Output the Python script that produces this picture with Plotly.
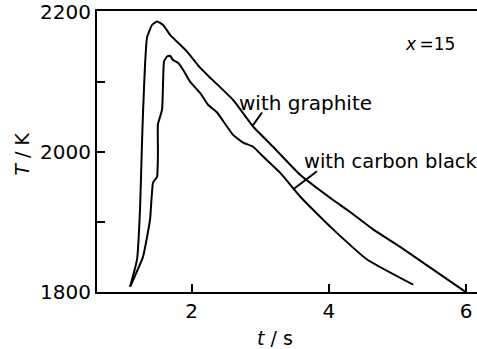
import plotly.graph_objects as go

# Graphite curve (t / s, T / K)
t_graphite = [1.104, 1.206, 1.249, 1.278, 1.293, 1.322, 1.351, 1.424, 1.497, 1.585, 1.687,
              1.934, 2.124, 2.226, 2.605, 2.897, 3.188, 3.582, 4.063, 4.267, 4.646, 5.04, 5.987]
T_graphite = [1807, 1846, 1917, 2013, 2057, 2124, 2163, 2181, 2186, 2181, 2167,
              2143, 2120, 2110, 2074, 2036, 2007, 1967, 1931, 1917, 1889, 1864, 1800]

# Carbon black curve
t_carbon = [1.104, 1.293, 1.395, 1.439, 1.497, 1.51, 1.51, 1.57, 1.585, 1.599, 1.643, 1.687,
            1.730, 1.803, 1.876, 1.978, 2.124, 2.241, 2.372, 2.605, 2.751, 2.897, 3.043,
            3.29, 3.582, 3.771, 4.063, 4.558, 5.229]
T_carbon = [1807, 1850, 1903, 1956, 1964, 1999, 2039, 2060, 2100, 2129, 2136, 2137,
            2131, 2127, 2117, 2100, 2084, 2067, 2056, 2024, 2013, 2007, 1993,
            1970, 1936, 1917, 1889, 1846, 1810]

x_ticks = [2, 4, 6]
x_ticktext = ["2", "4", "6"]
y_ticks = [1800, 1900, 2000, 2100, 2200]
y_ticktext = ["1800", "", "2000", "", "2200"]

FONT = "DejaVu Sans"
line_style = dict(color="black", width=2, shape="spline", smoothing=0.4)

fig = go.Figure()
fig.add_trace(go.Scatter(x=t_graphite, y=T_graphite, mode="lines", line=line_style,
                         showlegend=False, hoverinfo="skip"))
fig.add_trace(go.Scatter(x=t_carbon, y=T_carbon, mode="lines", line=line_style,
                         showlegend=False, hoverinfo="skip"))

# leader lines
fig.add_shape(type="line", x0=3.027, y0=2056, x1=2.896, y1=2038, line=dict(color="black", width=2))
fig.add_shape(type="line", x0=3.828, y0=1972, x1=3.478, y1=1946, line=dict(color="black", width=2))

fig.add_annotation(x=2.662, y=2070, text="with graphite", showarrow=False,
                   xanchor="left", yanchor="middle", font=dict(family=FONT, size=20, color="black"))
fig.add_annotation(x=3.61, y=1986, text="with carbon black", showarrow=False,
                   xanchor="left", yanchor="middle", font=dict(family=FONT, size=19.5, color="black"))
fig.add_annotation(x=5.08, y=2154, text="<i>x</i>\u2009=15", showarrow=False,
                   xanchor="left", yanchor="middle", font=dict(family=FONT, size=17, color="black"))

# axis titles
fig.add_annotation(x=3.216, xref="x", y=-0.165, yref="paper", text="<i>t</i> / s", showarrow=False,
                   xanchor="center", yanchor="middle", font=dict(family=FONT, size=19, color="black"))
fig.add_annotation(x=-0.197, xref="paper", y=1996, yref="y", text="<i>T</i> / K", showarrow=False,
                   textangle=-90, xanchor="center", yanchor="middle",
                   font=dict(family=FONT, size=19, color="black"))

fig.update_layout(
    width=477, height=349,
    margin=dict(l=97, r=0, t=11, b=57),
    paper_bgcolor="white", plot_bgcolor="white",
    font=dict(family=FONT, size=20, color="black"),
    xaxis=dict(range=[0.622, 6.16], tickvals=x_ticks, ticktext=x_ticktext,
               ticks="inside", ticklen=8, tickwidth=2, tickcolor="black",
               showline=True, linecolor="black", linewidth=2, mirror=True,
               showgrid=False, zeroline=False, tickfont=dict(family=FONT, size=20)),
    yaxis=dict(range=[1799.5, 2201], tickvals=y_ticks, ticktext=y_ticktext,
               ticks="inside", ticklen=8, tickwidth=2, tickcolor="black",
               showline=True, linecolor="black", linewidth=2, mirror=False,
               showgrid=False, zeroline=False, tickfont=dict(family=FONT, size=20),
               ticklabeloverflow="allow"),
)

fig.write_html("out.html")
